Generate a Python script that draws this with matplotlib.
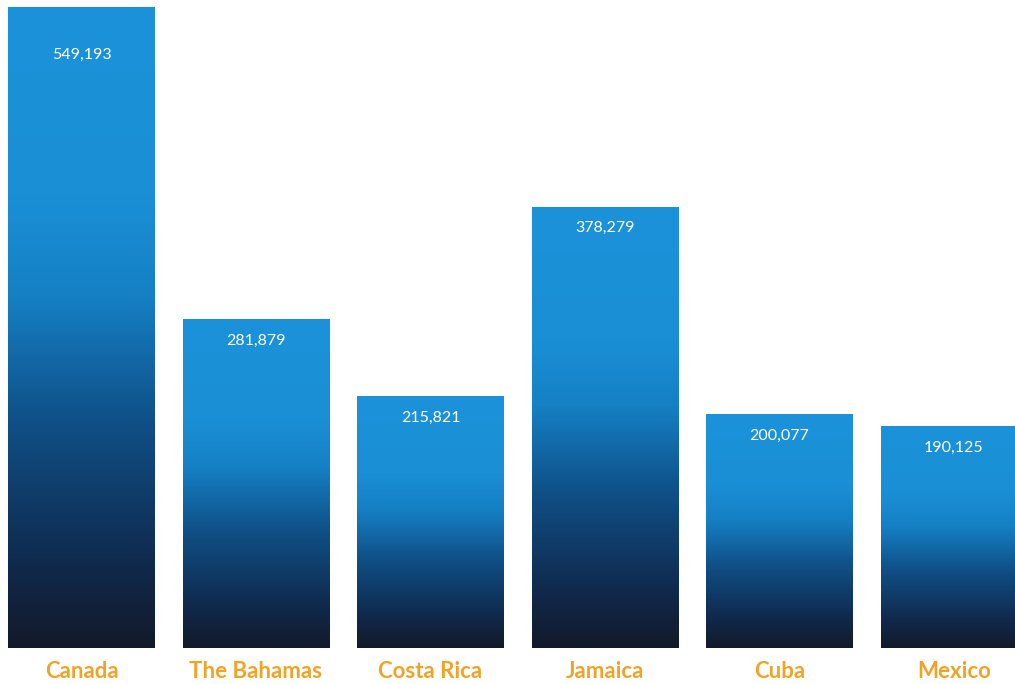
import numpy as np
import matplotlib
matplotlib.use("Agg")
import matplotlib.pyplot as plt
from matplotlib.colors import LinearSegmentedColormap

countries = ["Canada", "The Bahamas", "Costa Rica", "Jamaica", "Cuba", "Mexico"]
values = [549193, 281879, 215821, 378279, 200077, 190125]
value_labels = ["549,193", "281,879", "215,821", "378,279", "200,077", "190,125"]

fig = plt.figure(figsize=(10.15, 6.84), dpi=100)
ax = fig.add_axes([0, 36 / 684, 1, 648 / 684])

cmap = LinearSegmentedColormap.from_list(
    "bar_grad",
    [(0.0, "#131a2a"), (0.12, "#10284a"), (0.35, "#0f4f86"),
     (0.55, "#1580c4"), (0.7, "#1a8fd6"), (1.0, "#1b92d9")])

x = np.arange(len(countries))
bars = ax.bar(x, values, width=0.837, color="none", edgecolor="none")

grad = np.linspace(0, 1, 256).reshape(-1, 1)
for b in bars:
    x0, y0 = b.get_x(), b.get_y()
    w, h = b.get_width(), b.get_height()
    ax.imshow(grad, cmap=cmap, aspect="auto", origin="lower",
              extent=[x0, x0 + w, y0, y0 + h], zorder=2, interpolation="bicubic")

for i, (xi, v, lab) in enumerate(zip(x, values, value_labels)):
    off = -47 if i == 0 else -21
    ax.annotate(lab, (xi, v), xytext=(0, off), textcoords="offset pixels",
                ha="center", va="center", color="white",
                fontsize=11.5, family="Lato", zorder=3)
    ax.text(xi, -20000, countries[i], ha="center", va="center", color="#f2a225",
            fontsize=16, fontweight="bold", family="Lato", zorder=3,
            clip_on=False)

ax.set_xlim(-0.467, 5.35)
ax.set_ylim(0, 556000)
ax.axis("off")

fig.savefig("out.png", dpi=100)
